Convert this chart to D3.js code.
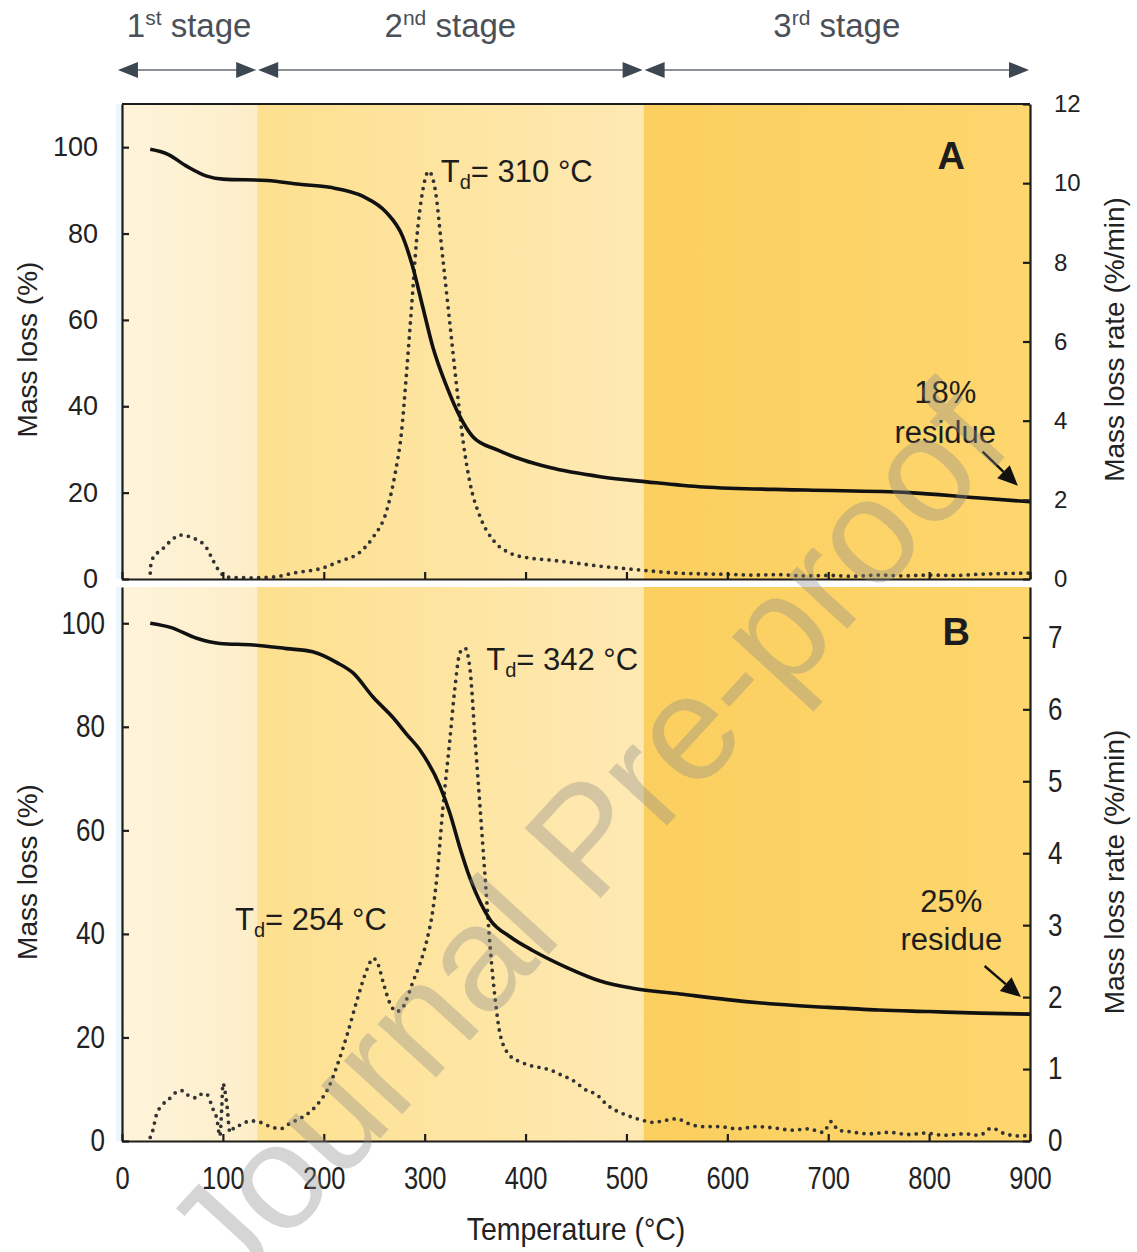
<!DOCTYPE html>
<html>
<head>
<meta charset="utf-8">
<script src="https://cdn.jsdelivr.net/npm/d3@7"></script>
<style>
  body { margin: 0; background: #fff; }
  svg text { font-family: "Liberation Sans", Arial, sans-serif; }
</style>
</head>
<body>
<div id="chart"></div>
<script>
// ---------- data ----------
// temperature boundaries of the three decomposition stages (°C)
const stageEdges = [0, 134, 517, 900];
const stageArrowEdges = [-5, 134, 517, 900];
const stageLabels = [["1", "st"], ["2", "nd"], ["3", "rd"]];

// Panel A - mass loss (%) curve
const tgTempA = [28, 45, 64, 84, 100, 144, 176, 206, 239, 262, 278, 288, 298, 308, 322, 335, 348, 372, 397, 424, 474, 520, 576, 678, 780, 847, 900];
const tgMassA = [99.5, 98.4, 95.6, 93.3, 92.6, 92.3, 91.4, 90.7, 88.6, 84.9, 79.4, 72.4, 63.1, 53.8, 44.5, 37.6, 32.9, 29.9, 27.6, 25.8, 23.7, 22.5, 21.3, 20.6, 20.0, 18.8, 17.9];

// Panel A - mass loss rate (%/min) curve
const dtgTempA = [28, 29, 41, 50, 57, 70, 84, 90, 97, 104, 127, 150, 170, 199, 216, 236, 249, 262, 271, 277, 282, 287, 292, 298, 304, 310, 318, 325, 332, 338, 345, 355, 368, 385, 404, 424, 450, 475, 500, 525, 550, 575, 600, 625, 650, 675, 700, 725, 750, 775, 800, 825, 850, 875, 900];
const dtgRateA = [0.15, 0.45, 0.78, 1.0, 1.11, 1.04, 0.78, 0.48, 0.18, 0.05, 0.03, 0.05, 0.15, 0.28, 0.45, 0.68, 1.06, 1.7, 2.7, 3.7, 5.2, 6.87, 8.56, 9.8, 10.3, 9.9, 8.1, 6.45, 4.8, 3.5, 2.42, 1.57, 0.98, 0.65, 0.53, 0.48, 0.4, 0.32, 0.26, 0.2, 0.15, 0.13, 0.12, 0.1, 0.11, 0.08, 0.09, 0.07, 0.1, 0.08, 0.1, 0.09, 0.12, 0.14, 0.15];

// Panel B - mass loss (%) curve
const tgTempB = [28, 48, 74, 97, 130, 163, 189, 213, 229, 249, 269, 282, 295, 315, 325, 335, 345, 355, 365, 385, 407, 441, 474, 506, 553, 600, 650, 700, 750, 800, 850, 900];
const tgMassB = [100, 99.2, 97.1, 96.1, 95.8, 95.1, 94.5, 92.4, 90.4, 85.7, 81.7, 78.6, 75.6, 68.6, 63.3, 56.6, 50.7, 46.1, 42.7, 39.4, 36.8, 33.5, 30.9, 29.5, 28.4, 27.3, 26.4, 25.8, 25.3, 25.0, 24.7, 24.5];

// Panel B - mass loss rate (%/min) curve
const dtgTempB = [28, 30, 34, 40, 48, 54, 60, 67, 74, 80, 84, 90, 94, 97, 99, 100, 102, 104, 107, 112, 117, 127, 137, 147, 157, 167, 176, 186, 196, 205, 213, 223, 233, 243, 249, 254, 259, 266, 272, 278, 283, 288, 295, 302, 308, 312, 318, 325, 330, 335, 340, 345, 350, 355, 360, 365, 370, 375, 385, 395, 407, 415, 424, 435, 446, 461, 470, 481, 490, 500, 513, 526, 540, 550, 560, 575, 592, 610, 630, 647, 665, 680, 695, 703, 710, 721, 740, 760, 780, 796, 815, 835, 850, 862, 875, 890, 900];
const dtgRateB = [0.05, 0.12, 0.36, 0.5, 0.6, 0.68, 0.7, 0.62, 0.6, 0.66, 0.65, 0.45, 0.31, 0.07, 0.5, 0.8, 0.7, 0.5, 0.12, 0.2, 0.22, 0.28, 0.26, 0.2, 0.17, 0.25, 0.31, 0.4, 0.55, 0.75, 1.04, 1.47, 1.96, 2.39, 2.54, 2.45, 2.2, 1.9, 1.8, 1.85, 2.0, 2.2, 2.45, 2.78, 3.2, 3.65, 4.62, 5.58, 6.3, 6.79, 6.85, 6.55, 5.58, 4.62, 3.65, 2.68, 1.96, 1.47, 1.18, 1.1, 1.04, 1.02, 0.99, 0.92, 0.85, 0.7, 0.65, 0.5, 0.42, 0.36, 0.3, 0.26, 0.29, 0.31, 0.25, 0.2, 0.2, 0.17, 0.2, 0.18, 0.15, 0.17, 0.12, 0.27, 0.15, 0.13, 0.1, 0.12, 0.09, 0.11, 0.08, 0.1, 0.08, 0.18, 0.1, 0.07, 0.08];

const tempTicks = [0, 100, 200, 300, 400, 500, 600, 700, 800, 900];
const massTicks = [0, 20, 40, 60, 80, 100];
const rateTicksA = [0, 2, 4, 6, 8, 10, 12];
const rateTicksB = [0, 1, 2, 3, 4, 5, 6, 7];

// ---------- layout ----------
const width = 1137, height = 1252;
const narrow = '"Liberation Sans Narrow", "Arial Narrow", sans-serif';
const squeeze = 0.84;

const svg = d3.select("#chart").append("svg")
  .attr("width", width)
  .attr("height", height);

svg.append("rect").attr("width", width).attr("height", height).attr("fill", "#fff");

const x = d3.scaleLinear().domain([0, 900]).range([122, 1030]);

const panels = [
  { id: "A", top: 104, bottom: 579, massMax: 110, rateMax: 12, rateTicks: rateTicksA,
    tgT: tgTempA, tgM: tgMassA, dtgT: dtgTempA, dtgR: dtgRateA },
  { id: "B", top: 587, bottom: 1141, massMax: 107, rateMax: 7.7, rateTicks: rateTicksB,
    tgT: tgTempB, tgM: tgMassB, dtgT: dtgTempB, dtgR: dtgRateB }
];
panels.forEach(p => {
  p.yL = d3.scaleLinear().domain([0, p.massMax]).range([p.bottom, p.top]);
  p.yR = d3.scaleLinear().domain([0, p.rateMax]).range([p.bottom, p.top]);
});

// background gradients for the stages
const defs = svg.append("defs");
const stageColors = [["#fef4db", "#fdeec9"], ["#fde08f", "#fee9b3"], ["#fbcf5f", "#fdd66e"]];
stageColors.forEach((c, i) => {
  const g = defs.append("linearGradient").attr("id", "stage" + i)
    .attr("x1", "0%").attr("x2", "100%").attr("y1", "0%").attr("y2", "0%");
  g.append("stop").attr("offset", "0%").attr("stop-color", c[0]);
  g.append("stop").attr("offset", "100%").attr("stop-color", c[1]);
});

panels.forEach(p => {
  svg.append("rect")
    .attr("x", 116).attr("y", p.top).attr("width", 6).attr("height", p.bottom - p.top)
    .attr("fill", "#eaf6fb");
  d3.range(3).forEach(i => {
    svg.append("rect")
      .attr("x", x(stageEdges[i]))
      .attr("y", p.top)
      .attr("width", x(stageEdges[i + 1]) - x(stageEdges[i]))
      .attr("height", p.bottom - p.top)
      .attr("fill", `url(#stage${i})`);
  });
});

// ---------- curves ----------
const tgLine = (p) => d3.line()
  .x((d, i) => x(p.tgT[i]))
  .y(d => p.yL(d))
  .curve(d3.curveMonotoneX);

const dtgLine = (p) => d3.line()
  .x((d, i) => x(p.dtgT[i]))
  .y(d => p.yR(d))
  .curve(d3.curveMonotoneX);

panels.forEach(p => {
  svg.append("path")
    .datum(p.dtgR)
    .attr("fill", "none")
    .attr("stroke", "#333")
    .attr("stroke-width", 3.8)
    .attr("stroke-linecap", "round")
    .attr("stroke-dasharray", "0,7.5")
    .attr("d", dtgLine(p));

  svg.append("path")
    .datum(p.tgM)
    .attr("fill", "none")
    .attr("stroke", "#111")
    .attr("stroke-width", 3.6)
    .attr("stroke-linejoin", "round")
    .attr("d", tgLine(p));
});

// ---------- axes ----------
function styleAxis(g, size, family) {
  g.attr("font-size", size).attr("font-family", family);
  g.select(".domain").attr("stroke", "#1c1c1c").attr("stroke-width", 2.2);
  g.selectAll(".tick line").attr("stroke", "#1c1c1c").attr("stroke-width", 2.2);
  g.selectAll(".tick text").attr("fill", "#222");
}

panels.forEach(p => {
  const isA = p.id === "A";
  const fam = isA ? '"Liberation Sans", Arial, sans-serif' : narrow;

  const gl = svg.append("g")
    .attr("transform", `translate(${x(0)},0)`)
    .call(d3.axisLeft(p.yL).tickValues(massTicks).tickSize(-7).tickSizeOuter(0)
      .tickPadding(isA ? 24 : 17 / squeeze));
  styleAxis(gl, isA ? 27 : 31, fam);

  const gr = svg.append("g")
    .attr("transform", `translate(${x(900)},0)`)
    .call(d3.axisRight(p.yR).tickValues(p.rateTicks).tickSize(-7).tickSizeOuter(0)
      .tickPadding(isA ? 24 : 18 / squeeze));
  styleAxis(gr, isA ? 24 : 31, fam);

  const gb = svg.append("g")
    .attr("transform", `translate(0,${p.bottom})`)
    .call(d3.axisBottom(x).tickValues(tempTicks).tickSize(-7).tickSizeOuter(0)
      .tickPadding(isA ? 10 : 26)
      .tickFormat(isA ? () => "" : d3.format("d")));
  styleAxis(gb, 31, narrow);

  if (!isA) {
    gl.selectAll(".tick text").attr("transform", `scale(${squeeze},1)`);
    gr.selectAll(".tick text").attr("transform", `scale(${squeeze},1)`);
    gb.selectAll(".tick text").attr("transform", `scale(${squeeze * 0.98},1)`);
  } else {
    svg.append("line")
      .attr("x1", x(0)).attr("x2", x(900))
      .attr("y1", p.top).attr("y2", p.top)
      .attr("stroke", "#1c1c1c").attr("stroke-width", 2.2);
  }

  // axis titles
  const midY = (p.top + p.bottom) / 2;
  svg.append("text")
    .attr("transform", `translate(37,${midY + 8}) rotate(-90)`)
    .attr("text-anchor", "middle")
    .style("font-size", "28px")
    .attr("fill", "#222")
    .text("Mass loss (%)");

  svg.append("text")
    .attr("transform", `translate(1124,${midY + (isA ? -2 : 8)}) rotate(-90)`)
    .attr("text-anchor", "middle")
    .style("font-size", "28px")
    .attr("fill", "#222")
    .text("Mass loss rate (%/min)");
});

svg.append("text")
  .attr("transform", `translate(${x(450)},1240) scale(0.89,1)`)
  .attr("text-anchor", "middle")
  .style("font-family", narrow)
  .style("font-size", "32px")
  .attr("fill", "#222")
  .text("Temperature (°C)");

// ---------- stage arrows ----------
const arrowY = 70;
function head(tipX, dir) {
  // dir = -1 pointing left, +1 pointing right
  const len = 20, half = 8;
  return `M${tipX},${arrowY} L${tipX - dir * len},${arrowY - half} L${tipX - dir * len},${arrowY + half} Z`;
}
d3.range(3).forEach(i => {
  const x0 = x(stageArrowEdges[i]), x1 = x(stageArrowEdges[i + 1]);
  svg.append("line")
    .attr("x1", x0 + 4).attr("x2", x1 - 4)
    .attr("y1", arrowY).attr("y2", arrowY)
    .attr("stroke", "#8a9096").attr("stroke-width", 2.2);
  svg.append("path").attr("d", head(x0 + 1, -1)).attr("fill", "#3d4752");
  svg.append("path").attr("d", head(x1 - 1, 1)).attr("fill", "#3d4752");

  const t = svg.append("text")
    .attr("x", (x0 + x1) / 2 + (i === 0 ? 2 : 0))
    .attr("y", 37)
    .attr("text-anchor", "middle")
    .style("font-size", "33px")
    .attr("fill", "#4a5057");
  t.append("tspan").text(stageLabels[i][0]);
  t.append("tspan").attr("dy", -12).style("font-size", "21px").text(stageLabels[i][1]);
  t.append("tspan").attr("dy", 12).text(" stage");
});

// ---------- annotations ----------
const pA = panels[0], pB = panels[1];

function label(p, t, m, txt, opts = {}) {
  return svg.append("text")
    .attr("x", x(t)).attr("y", p.yL(m))
    .attr("text-anchor", opts.anchor || "start")
    .style("font-size", (opts.size || 31) + "px")
    .style("font-weight", opts.weight || "normal")
    .attr("fill", "#1d1d1d")
    .text(txt);
}

label(pA, 822, 95, "A", { anchor: "middle", size: 38, weight: "bold" });
label(pB, 827, 95.8, "B", { anchor: "middle", size: 38, weight: "bold" });

function tdLabel(p, t, m, value) {
  const el = svg.append("text")
    .attr("x", x(t)).attr("y", p.yL(m))
    .style("font-size", "31px")
    .attr("fill", "#1d1d1d");
  el.append("tspan").text("T");
  el.append("tspan").attr("dy", 7).style("font-size", "20px").text("d");
  el.append("tspan").attr("dy", -7).text(`= ${value} °C`);
}
tdLabel(pA, 316, 92, 310);
tdLabel(pB, 361, 91, 342);
tdLabel(pB, 112, 40.8, 254);

label(pA, 816, 40.8, "18%", { anchor: "middle" });
label(pA, 816, 31.6, "residue", { anchor: "middle" });
label(pB, 822, 44.3, "25%", { anchor: "middle" });
label(pB, 822, 36.9, "residue", { anchor: "middle" });

function arrow(p, t1, m1, t2, m2) {
  const x1 = x(t1), y1 = p.yL(m1), x2 = x(t2), y2 = p.yL(m2);
  const a = Math.atan2(y2 - y1, x2 - x1);
  const len = 20, half = 9;
  const bx = x2 - len * Math.cos(a), by = y2 - len * Math.sin(a);
  svg.append("line")
    .attr("x1", x1).attr("y1", y1).attr("x2", bx).attr("y2", by)
    .attr("stroke", "#111").attr("stroke-width", 2.4);
  svg.append("path")
    .attr("d", `M${x2},${y2} L${bx + half * Math.sin(a)},${by - half * Math.cos(a)} L${bx - half * Math.sin(a)},${by + half * Math.cos(a)} Z`)
    .attr("fill", "#111");
}
arrow(pA, 853, 29.5, 888, 21.6);
arrow(pB, 855, 33.8, 891, 27.8);

// ---------- watermark ----------
svg.append("text")
  .attr("transform", "translate(585,838) rotate(-47.5)")
  .attr("text-anchor", "middle")
  .attr("dominant-baseline", "central")
  .style("font-size", "150px")
  .attr("fill", "#8a8a8a")
  .attr("fill-opacity", 0.36)
  .text("Journal Pre-proof");
</script>
</body>
</html>
